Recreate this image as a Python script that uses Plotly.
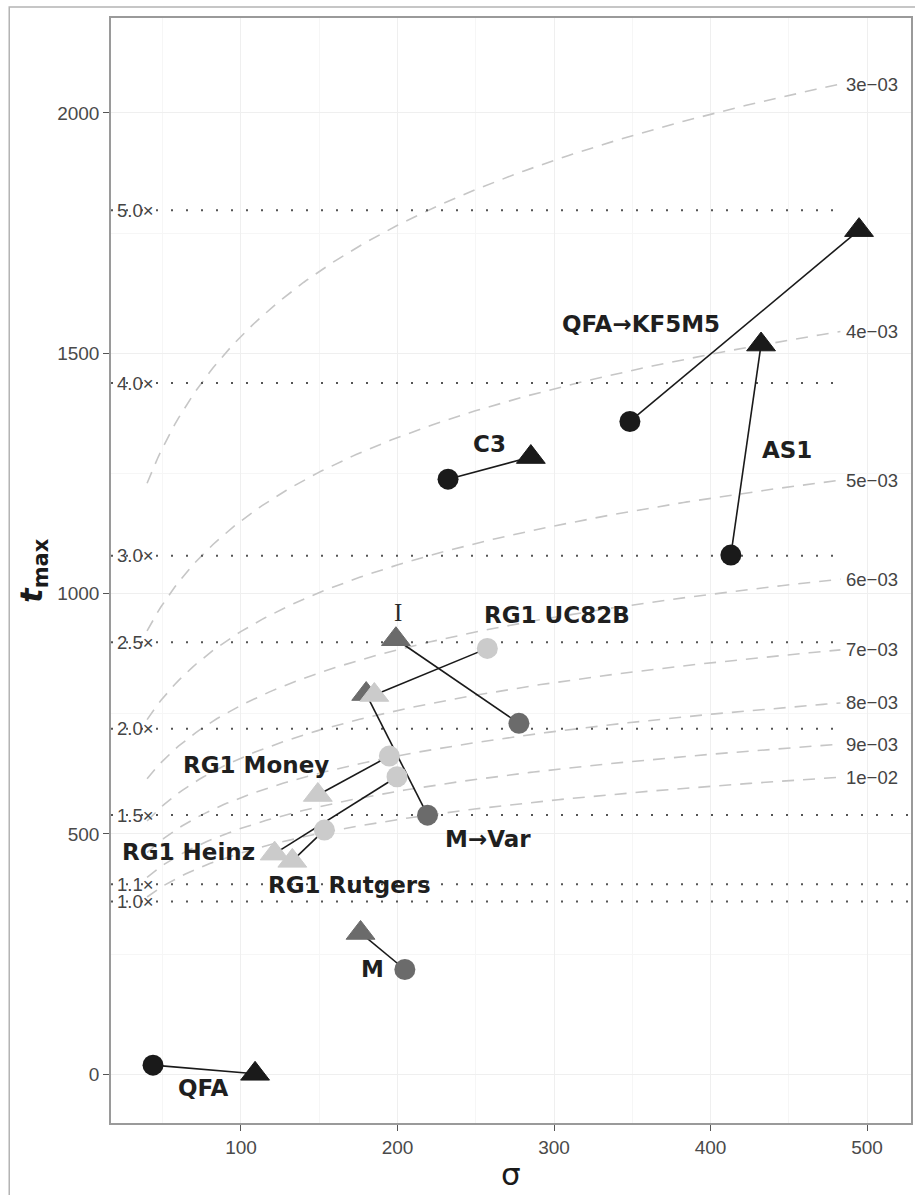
import numpy as np
import plotly.graph_objects as go

# ---------------- data ----------------
pair_names = ["QFA→KF5M5", "AS1", "C3", "I", "M→Var", "RG1 UC82B",
              "RG1 Money", "RG1 Heinz", "RG1 Rutgers", "M", "QFA"]
pair_shade = ["black", "black", "black", "dark", "dark", "light",
              "light", "light", "light", "dark", "black"]
start_sigma = [348.5, 413.0, 232.3, 277.6, 219.2, 257.4, 194.8, 199.7, 153.3, 204.7, 43.8]
start_tmax = [1358, 1080, 1238, 730, 539, 886, 662, 619, 508, 218, 19]
end_sigma = [494.9, 432.3, 285.2, 199.0, 180.0, 185.2, 149.1, 121.5, 132.8, 176.4, 109.0]
end_tmax = [1756, 1518, 1284, 905, 791, 789, 581, 459, 444, 294, 1]

label_text = ["QFA→KF5M5", "AS1", "C3", "I", "M→Var", "RG1 UC82B",
              "RG1 Money", "RG1 Heinz", "RG1 Rutgers", "M", "QFA"]
label_sigma = [355.6, 448.7, 258.5, 200.6, 257.7, 301.9, 109.4, 66.3, 169.6, 184.3, 75.9]
label_tmax = [1561, 1298, 1311, 961, 490, 956, 643, 463, 394, 220, -29]

# reference curves t = ln(sigma) / rate
rates = [3e-3, 4e-3, 5e-3, 6e-3, 7e-3, 8e-3, 9e-3, 1e-2]
rate_labels = ["3e−03", "4e−03", "5e−03", "6e−03", "7e−03", "8e−03", "9e−03", "1e−02"]
curve_sigma_start = 40
curve_sigma_end = 483

# horizontal multiples of baseline t_max
baseline_t = 359.5
multipliers = [1.0, 1.1, 1.5, 2.0, 2.5, 3.0, 4.0, 5.0]
mult_labels = ["1.0×", "1.1×", "1.5×", "2.0×", "2.5×", "3.0×", "4.0×", "5.0×"]
mult_line_end = [528, 528, 528, 481, 481, 481, 481, 481]

x_ticks = [100, 200, 300, 400, 500]
y_ticks = [0, 500, 1000, 1500, 2000]
x_range = [16.95, 528.1]
y_range = [-101.3, 2197.3]

# ---------------- styles ----------------
shade_color = {"black": "#1a1a1a", "dark": "#6b6b6b", "light": "#cbcbcb"}

fig = go.Figure()

# dashed curves
sig = np.linspace(curve_sigma_start, curve_sigma_end, 200)
for r in rates:
    fig.add_trace(go.Scatter(x=sig, y=np.log(sig) / r, mode="lines",
                             line=dict(color="#c6c6c6", width=1.6, dash="12px,9px"),
                             hoverinfo="skip", showlegend=False))

# dotted multiplier lines
for m, xe in zip(multipliers, mult_line_end):
    fig.add_trace(go.Scatter(x=[x_range[0], xe], y=[baseline_t * m] * 2, mode="lines",
                             line=dict(color="#555555", width=2, dash="2px,13px"),
                             hoverinfo="skip", showlegend=False))

# connecting segments
for i in range(len(pair_names)):
    fig.add_trace(go.Scatter(x=[start_sigma[i], end_sigma[i]], y=[start_tmax[i], end_tmax[i]],
                             mode="lines", line=dict(color="#1a1a1a", width=1.6),
                             hoverinfo="skip", showlegend=False))

# markers
for i in range(len(pair_names)):
    c = shade_color[pair_shade[i]]
    fig.add_trace(go.Scatter(x=[start_sigma[i]], y=[start_tmax[i]], mode="markers",
                             marker=dict(symbol="circle", size=21, color=c, line=dict(width=0)),
                             hoverinfo="skip", showlegend=False))
    fig.add_trace(go.Scatter(x=[end_sigma[i]], y=[end_tmax[i]], mode="markers",
                             marker=dict(symbol="triangle-up", size=25, color=c,
                                         line=dict(width=1, color=c)),
                             hoverinfo="skip", showlegend=False))

# pair labels
for txt, xs, ys in zip(label_text, label_sigma, label_tmax):
    if txt == "I":
        font = dict(family="Liberation Serif", size=25, color="#2a2a2a")
        t = txt
    else:
        font = dict(family="DejaVu Sans", size=23, color="#1f1f1f")
        t = "<b>" + txt + "</b>"
    fig.add_annotation(x=xs, y=ys, text=t, showarrow=False, font=font,
                       xanchor="center", yanchor="middle")

# multiplier labels
for m, lab in zip(multipliers, mult_labels):
    fig.add_annotation(x=20.0, y=baseline_t * m, text=lab, showarrow=False,
                       font=dict(family="Liberation Sans", size=18.5, color="#444444"),
                       xanchor="left", yanchor="middle", borderpad=0)

# rate labels
for r, lab in zip(rates, rate_labels):
    fig.add_annotation(x=486.0, y=np.log(curve_sigma_end) / r, text=lab, showarrow=False,
                       font=dict(family="Liberation Sans", size=18.5, color="#444444"),
                       xanchor="left", yanchor="middle", borderpad=0)

# axis titles
fig.add_annotation(xref="paper", yref="paper", x=0.5, y=-0.046, text="σ",
                   showarrow=False, font=dict(family="DejaVu Sans", size=31, color="#1a1a1a"),
                   xanchor="center", yanchor="middle", borderpad=0)
fig.add_annotation(xref="paper", yref="paper", x=-0.0973, y=0.5,
                   text="<b><i>t</i><sub>max</sub></b>", textangle=-90,
                   showarrow=False, font=dict(family="DejaVu Sans", size=30, color="#1a1a1a"),
                   xanchor="center", yanchor="middle")

# outer figure frame
fig.add_shape(type="rect", xref="paper", yref="paper", x0=-0.1272, x1=1.05, y0=-0.1, y1=1.00995,
              line=dict(color="#b4b4b4", width=1.5), layer="below")

axis_common = dict(showline=True, mirror=True, linecolor="#9a9a9a", linewidth=1.5,
                   ticks="outside", ticklen=6, tickwidth=1.2, tickcolor="#555555",
                   tickfont=dict(family="Liberation Sans", size=19, color="#4a4a4a"),
                   showgrid=True, gridcolor="#efefef", gridwidth=1, zeroline=False)

fig.update_layout(
    width=915, height=1195,
    margin=dict(l=111, r=2, t=18, b=72),
    paper_bgcolor="white", plot_bgcolor="white",
    showlegend=False,
    xaxis=dict(range=x_range, tickvals=x_ticks, **axis_common,
               minor=dict(tick0=50, dtick=100, showgrid=True, gridcolor="#f6f6f6", ticks="")),
    yaxis=dict(range=y_range, tickvals=y_ticks, **axis_common,
               minor=dict(tick0=250, dtick=500, showgrid=True, gridcolor="#f6f6f6", ticks="")),
)

fig.write_html("out.html", config={"displayModeBar": False},
               post_script="document.body.style.margin='0px';document.body.style.overflow='hidden';")
